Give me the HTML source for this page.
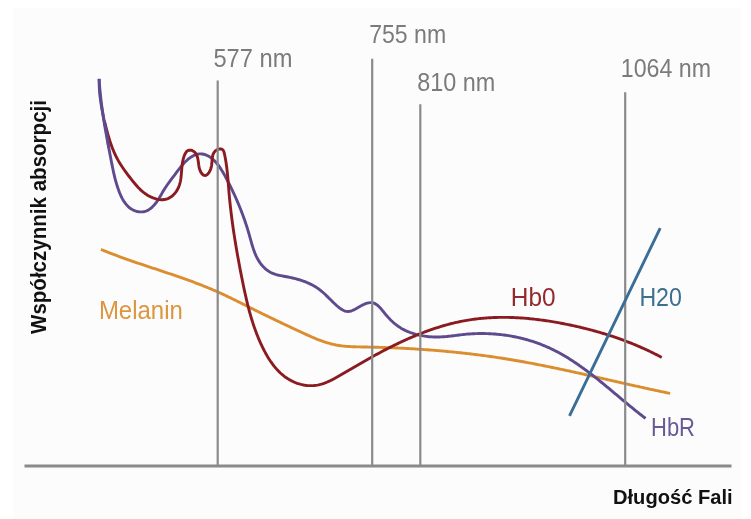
<!DOCTYPE html>
<html><head><meta charset="utf-8"><title>Współczynnik absorpcji</title>
<style>html,body{margin:0;padding:0;background:#fdfcfd;}svg{display:block;}
text{font-family:"Liberation Sans",sans-serif;}</style></head>
<body>
<svg width="751" height="519" viewBox="0 0 751 519">
<rect width="751" height="519" fill="#ffffff"/>
<rect x="13" y="8" width="728" height="511" fill="#fdfcfd"/>
<path d="M100.99 249.42 L102.38 249.99 L103.77 250.56 L105.17 251.12 L106.56 251.68 L107.96 252.24 L109.36 252.79 L110.76 253.33 L112.17 253.87 L113.57 254.41 L114.98 254.94 L116.39 255.47 L117.80 256.00 L119.21 256.52 L120.62 257.03 L122.03 257.55 L123.45 258.06 L124.86 258.57 L126.28 259.07 L127.70 259.57 L129.12 260.07 L130.54 260.57 L131.96 261.06 L133.38 261.55 L134.80 262.04 L136.22 262.53 L137.65 263.01 L139.07 263.50 L140.50 263.98 L141.92 264.46 L143.35 264.94 L144.77 265.42 L146.20 265.89 L147.63 266.37 L149.05 266.84 L150.48 267.32 L151.91 267.79 L153.33 268.27 L154.76 268.74 L156.19 269.21 L157.62 269.69 L159.04 270.16 L160.47 270.64 L161.90 271.11 L163.33 271.59 L164.75 272.06 L166.18 272.54 L167.60 273.02 L169.03 273.50 L170.45 273.98 L171.88 274.46 L173.30 274.95 L174.73 275.43 L176.15 275.92 L177.57 276.41 L178.99 276.90 L180.41 277.40 L181.83 277.89 L183.25 278.39 L184.67 278.89 L186.08 279.40 L187.50 279.91 L188.91 280.42 L190.33 280.93 L191.74 281.45 L193.15 281.97 L194.56 282.50 L195.97 283.03 L197.37 283.56 L198.78 284.10 L200.18 284.64 L201.58 285.19 L202.98 285.74 L204.38 286.30 L205.77 286.86 L207.17 287.43 L208.56 288.00 L209.95 288.57 L211.33 289.15 L212.72 289.74 L214.10 290.34 L215.48 290.93 L216.86 291.54 L218.23 292.15 L219.60 292.77 L220.97 293.39 L222.34 294.02 L223.70 294.65 L225.06 295.29 L226.42 295.93 L227.78 296.58 L229.14 297.23 L230.49 297.88 L231.84 298.54 L233.19 299.20 L234.54 299.87 L235.89 300.53 L237.24 301.20 L238.59 301.87 L239.93 302.54 L241.28 303.21 L242.62 303.89 L243.97 304.56 L245.31 305.24 L246.66 305.91 L248.00 306.59 L249.34 307.26 L250.69 307.93 L252.03 308.61 L253.38 309.28 L254.73 309.95 L256.07 310.61 L257.42 311.28 L258.77 311.94 L260.12 312.61 L261.47 313.27 L262.82 313.93 L264.17 314.59 L265.53 315.25 L266.88 315.91 L268.23 316.57 L269.58 317.22 L270.94 317.88 L272.29 318.53 L273.65 319.18 L275.00 319.83 L276.36 320.48 L277.72 321.13 L279.07 321.78 L280.43 322.43 L281.79 323.07 L283.15 323.72 L284.51 324.36 L285.87 325.01 L287.23 325.65 L288.59 326.29 L289.95 326.93 L291.31 327.57 L292.67 328.21 L294.03 328.85 L295.39 329.49 L296.75 330.13 L298.12 330.76 L299.48 331.40 L300.84 332.04 L302.21 332.67 L303.57 333.30 L304.94 333.93 L306.30 334.56 L307.67 335.18 L309.05 335.79 L310.42 336.40 L311.80 337.00 L313.19 337.59 L314.57 338.17 L315.96 338.74 L317.36 339.30 L318.76 339.85 L320.17 340.38 L321.58 340.90 L323.00 341.40 L324.42 341.88 L325.85 342.35 L327.29 342.79 L328.73 343.22 L330.18 343.62 L331.64 344.00 L333.10 344.35 L334.57 344.68 L336.04 344.99 L337.52 345.26 L339.00 345.51 L340.49 345.73 L341.98 345.92 L343.47 346.09 L344.97 346.24 L346.47 346.37 L347.97 346.48 L349.47 346.57 L350.97 346.65 L352.47 346.72 L353.98 346.77 L355.48 346.82 L356.98 346.86 L358.49 346.89 L359.99 346.92 L361.50 346.94 L363.00 346.97 L364.50 346.99 L366.01 347.02 L367.51 347.05 L369.01 347.08 L370.52 347.11 L372.02 347.15 L373.52 347.19 L375.03 347.22 L376.53 347.26 L378.03 347.31 L379.54 347.35 L381.04 347.40 L382.54 347.45 L384.05 347.49 L385.55 347.55 L387.05 347.60 L388.56 347.66 L390.06 347.71 L391.56 347.77 L393.06 347.84 L394.57 347.90 L396.07 347.96 L397.57 348.03 L399.07 348.10 L400.58 348.17 L402.08 348.25 L403.58 348.32 L405.08 348.40 L406.59 348.48 L408.09 348.56 L409.59 348.65 L411.09 348.73 L412.59 348.82 L414.09 348.91 L415.59 349.00 L417.09 349.10 L418.60 349.19 L420.10 349.29 L421.60 349.39 L423.10 349.50 L424.60 349.60 L426.10 349.71 L427.60 349.82 L429.10 349.93 L430.60 350.04 L432.10 350.16 L433.60 350.28 L435.10 350.40 L436.59 350.52 L438.09 350.64 L439.59 350.77 L441.09 350.90 L442.59 351.03 L444.09 351.17 L445.58 351.30 L447.08 351.44 L448.58 351.58 L450.08 351.73 L451.57 351.87 L453.07 352.02 L454.57 352.17 L456.06 352.32 L457.56 352.48 L459.05 352.64 L460.55 352.79 L462.04 352.96 L463.54 353.12 L465.03 353.29 L466.53 353.46 L468.02 353.63 L469.52 353.80 L471.01 353.98 L472.50 354.16 L474.00 354.34 L475.49 354.53 L476.98 354.71 L478.47 354.90 L479.96 355.09 L481.46 355.29 L482.95 355.48 L484.44 355.68 L485.93 355.88 L487.42 356.09 L488.91 356.30 L490.40 356.50 L491.89 356.72 L493.38 356.93 L494.86 357.15 L496.35 357.37 L497.84 357.59 L499.33 357.81 L500.81 358.04 L502.30 358.27 L503.78 358.50 L505.27 358.74 L506.75 358.98 L508.24 359.22 L509.72 359.46 L511.21 359.71 L512.69 359.96 L514.17 360.21 L515.66 360.46 L517.14 360.72 L518.62 360.98 L520.10 361.24 L521.58 361.50 L523.06 361.77 L524.54 362.04 L526.02 362.31 L527.50 362.58 L528.98 362.85 L530.46 363.13 L531.93 363.41 L533.41 363.69 L534.89 363.97 L536.37 364.26 L537.84 364.55 L539.32 364.83 L540.79 365.12 L542.27 365.42 L543.74 365.71 L545.22 366.01 L546.69 366.31 L548.17 366.60 L549.64 366.91 L551.11 367.21 L552.59 367.51 L554.06 367.82 L555.53 368.12 L557.00 368.43 L558.47 368.74 L559.95 369.05 L561.42 369.37 L562.89 369.68 L564.36 370.00 L565.83 370.31 L567.30 370.63 L568.77 370.95 L570.24 371.27 L571.71 371.59 L573.18 371.91 L574.65 372.23 L576.12 372.55 L577.58 372.88 L579.05 373.20 L580.52 373.53 L581.99 373.86 L583.46 374.18 L584.92 374.51 L586.39 374.84 L587.86 375.17 L589.33 375.50 L590.79 375.83 L592.26 376.16 L593.73 376.49 L595.19 376.82 L596.66 377.16 L598.13 377.49 L599.59 377.82 L601.06 378.16 L602.53 378.49 L603.99 378.82 L605.46 379.16 L606.93 379.49 L608.39 379.82 L609.86 380.16 L611.33 380.49 L612.79 380.83 L614.26 381.16 L615.73 381.49 L617.19 381.83 L618.66 382.16 L620.13 382.49 L621.59 382.83 L623.06 383.16 L624.53 383.49 L625.99 383.82 L627.46 384.15 L628.93 384.48 L630.39 384.81 L631.86 385.14 L633.33 385.47 L634.80 385.80 L636.26 386.13 L637.73 386.46 L639.20 386.78 L640.67 387.11 L642.14 387.44 L643.61 387.76 L645.07 388.08 L646.54 388.40 L648.01 388.73 L649.48 389.05 L650.95 389.37 L652.42 389.68 L653.89 390.00 L655.36 390.32 L656.83 390.63 L658.30 390.94 L659.78 391.26 L661.25 391.57 L662.72 391.88 L664.19 392.19 L665.66 392.49 L667.14 392.80 L668.61 393.10 L670.08 393.40" fill="none" stroke="#da8e30" stroke-width="2.9" stroke-linecap="butt" stroke-linejoin="round"/>
<path d="M99.09 78.95 L99.18 80.45 L99.28 81.95 L99.39 83.45 L99.50 84.95 L99.62 86.45 L99.75 87.95 L99.88 89.44 L100.02 90.94 L100.17 92.44 L100.32 93.93 L100.48 95.43 L100.65 96.92 L100.82 98.42 L100.99 99.91 L101.17 101.40 L101.36 102.89 L101.55 104.38 L101.74 105.87 L101.94 107.36 L102.15 108.85 L102.35 110.34 L102.57 111.83 L102.78 113.32 L103.01 114.81 L103.23 116.29 L103.46 117.78 L103.69 119.26 L103.93 120.75 L104.17 122.23 L104.41 123.72 L104.66 125.20 L104.91 126.68 L105.16 128.16 L105.42 129.64 L105.67 131.13 L105.93 132.61 L106.20 134.09 L106.46 135.57 L106.73 137.05 L107.00 138.52 L107.27 140.00 L107.54 141.48 L107.82 142.96 L108.10 144.44 L108.37 145.91 L108.65 147.39 L108.94 148.87 L109.22 150.34 L109.50 151.82 L109.78 153.30 L110.07 154.77 L110.36 156.25 L110.64 157.72 L110.93 159.20 L111.22 160.68 L111.50 162.15 L111.79 163.63 L112.08 165.10 L112.38 166.58 L112.68 168.05 L112.98 169.52 L113.29 170.99 L113.61 172.46 L113.94 173.93 L114.28 175.39 L114.64 176.85 L115.00 178.31 L115.38 179.77 L115.78 181.22 L116.18 182.66 L116.61 184.11 L117.05 185.54 L117.51 186.97 L117.99 188.40 L118.48 189.82 L119.00 191.23 L119.54 192.63 L120.12 194.02 L120.72 195.40 L121.36 196.76 L122.04 198.10 L122.76 199.42 L123.53 200.71 L124.35 201.97 L125.23 203.19 L126.16 204.37 L127.15 205.50 L128.22 206.56 L129.34 207.56 L130.54 208.47 L131.80 209.29 L133.12 210.00 L134.49 210.62 L135.91 211.12 L137.36 211.51 L138.84 211.77 L140.33 211.91 L141.84 211.91 L143.33 211.76 L144.81 211.47 L146.24 211.02 L147.61 210.41 L148.92 209.66 L150.16 208.81 L151.33 207.87 L152.43 206.85 L153.49 205.78 L154.49 204.66 L155.44 203.50 L156.35 202.30 L157.22 201.07 L158.06 199.82 L158.86 198.55 L159.64 197.27 L160.41 195.97 L161.16 194.67 L161.91 193.37 L162.67 192.07 L163.43 190.77 L164.21 189.49 L165.01 188.22 L165.83 186.96 L166.68 185.72 L167.54 184.48 L168.41 183.26 L169.30 182.05 L170.20 180.84 L171.10 179.64 L172.01 178.44 L172.92 177.24 L173.82 176.05 L174.72 174.84 L175.62 173.63 L176.52 172.43 L177.41 171.22 L178.32 170.02 L179.23 168.83 L180.16 167.64 L181.11 166.48 L182.08 165.33 L183.07 164.20 L184.09 163.09 L185.13 162.01 L186.21 160.96 L187.32 159.95 L188.46 158.97 L189.65 158.05 L190.87 157.18 L192.14 156.37 L193.46 155.65 L194.83 155.02 L196.24 154.51 L197.69 154.13 L199.18 153.91 L200.68 153.85 L202.18 153.97 L203.66 154.25 L205.10 154.67 L206.50 155.20 L207.86 155.84 L209.18 156.57 L210.44 157.39 L211.65 158.28 L212.81 159.23 L213.92 160.25 L214.98 161.31 L216.00 162.42 L216.97 163.56 L217.91 164.74 L218.81 165.94 L219.68 167.17 L220.52 168.41 L221.34 169.68 L222.14 170.95 L222.91 172.24 L223.67 173.54 L224.40 174.85 L225.13 176.17 L225.84 177.49 L226.54 178.82 L227.24 180.15 L227.93 181.49 L228.62 182.82 L229.30 184.16 L229.97 185.51 L230.64 186.86 L231.30 188.21 L231.95 189.56 L232.60 190.92 L233.24 192.28 L233.88 193.64 L234.50 195.01 L235.12 196.37 L235.74 197.75 L236.35 199.12 L236.95 200.50 L237.54 201.88 L238.13 203.26 L238.71 204.65 L239.28 206.04 L239.85 207.43 L240.41 208.83 L240.96 210.23 L241.50 211.63 L242.04 213.03 L242.57 214.44 L243.09 215.85 L243.60 217.26 L244.11 218.68 L244.61 220.10 L245.10 221.52 L245.58 222.94 L246.06 224.37 L246.52 225.80 L246.98 227.23 L247.43 228.66 L247.88 230.10 L248.31 231.54 L248.74 232.98 L249.15 234.42 L249.56 235.87 L249.97 237.32 L250.37 238.77 L250.77 240.22 L251.17 241.67 L251.58 243.11 L252.00 244.56 L252.43 246.00 L252.88 247.43 L253.34 248.86 L253.83 250.28 L254.35 251.69 L254.89 253.10 L255.47 254.48 L256.08 255.86 L256.73 257.21 L257.43 258.55 L258.16 259.85 L258.95 261.14 L259.78 262.39 L260.66 263.61 L261.59 264.79 L262.56 265.94 L263.59 267.03 L264.66 268.09 L265.79 269.08 L266.96 270.02 L268.18 270.90 L269.45 271.71 L270.76 272.44 L272.12 273.09 L273.51 273.66 L274.93 274.16 L276.36 274.60 L277.82 274.99 L279.28 275.33 L280.75 275.65 L282.22 275.94 L283.70 276.22 L285.18 276.48 L286.66 276.75 L288.14 277.03 L289.61 277.33 L291.08 277.64 L292.55 277.97 L294.01 278.31 L295.47 278.68 L296.92 279.07 L298.37 279.48 L299.81 279.91 L301.24 280.37 L302.66 280.85 L304.08 281.36 L305.48 281.90 L306.87 282.46 L308.26 283.06 L309.62 283.68 L310.98 284.34 L312.31 285.03 L313.63 285.75 L314.93 286.51 L316.21 287.30 L317.46 288.12 L318.70 288.98 L319.90 289.88 L321.08 290.82 L322.23 291.78 L323.36 292.77 L324.48 293.78 L325.57 294.81 L326.66 295.85 L327.73 296.90 L328.80 297.96 L329.86 299.02 L330.93 300.09 L331.99 301.15 L333.07 302.20 L334.15 303.24 L335.24 304.27 L336.35 305.29 L337.48 306.28 L338.63 307.25 L339.82 308.17 L341.04 309.04 L342.32 309.83 L343.66 310.52 L345.06 311.07 L346.52 311.42 L348.01 311.54 L349.51 311.39 L350.96 311.03 L352.37 310.51 L353.74 309.88 L355.07 309.19 L356.38 308.45 L357.68 307.70 L358.98 306.94 L360.29 306.20 L361.62 305.49 L362.96 304.82 L364.33 304.20 L365.73 303.65 L367.16 303.19 L368.62 302.84 L370.11 302.64 L371.62 302.65 L373.10 302.90 L374.51 303.40 L375.84 304.10 L377.08 304.95 L378.23 305.91 L379.32 306.95 L380.35 308.05 L381.34 309.18 L382.30 310.33 L383.25 311.50 L384.19 312.68 L385.13 313.84 L386.09 315.00 L387.07 316.14 L388.07 317.26 L389.10 318.36 L390.14 319.44 L391.21 320.50 L392.30 321.53 L393.42 322.54 L394.56 323.51 L395.73 324.46 L396.93 325.37 L398.15 326.25 L399.39 327.09 L400.66 327.90 L401.95 328.67 L403.27 329.40 L404.60 330.09 L405.96 330.74 L407.33 331.36 L408.72 331.94 L410.12 332.48 L411.53 332.99 L412.96 333.47 L414.39 333.91 L415.84 334.33 L417.29 334.71 L418.75 335.06 L420.22 335.38 L421.70 335.67 L423.18 335.93 L424.66 336.16 L426.15 336.37 L427.65 336.55 L429.14 336.69 L430.64 336.82 L432.14 336.91 L433.64 336.98 L435.14 337.02 L436.65 337.03 L438.15 337.01 L439.65 336.97 L441.16 336.91 L442.66 336.82 L444.16 336.71 L445.65 336.58 L447.15 336.44 L448.65 336.28 L450.14 336.11 L451.63 335.94 L453.12 335.75 L454.62 335.57 L456.11 335.38 L457.60 335.19 L459.09 335.00 L460.58 334.82 L462.08 334.64 L463.57 334.48 L465.06 334.32 L466.56 334.18 L468.06 334.06 L469.56 333.94 L471.06 333.84 L472.56 333.76 L474.06 333.68 L475.56 333.62 L477.07 333.58 L478.57 333.54 L480.07 333.52 L481.58 333.52 L483.08 333.52 L484.58 333.54 L486.08 333.58 L487.59 333.63 L489.09 333.69 L490.59 333.76 L492.09 333.85 L493.59 333.95 L495.09 334.06 L496.59 334.18 L498.09 334.32 L499.58 334.48 L501.08 334.64 L502.57 334.82 L504.06 335.02 L505.55 335.22 L507.04 335.44 L508.52 335.67 L510.00 335.92 L511.48 336.18 L512.96 336.45 L514.44 336.74 L515.91 337.04 L517.38 337.35 L518.85 337.68 L520.31 338.02 L521.78 338.37 L523.23 338.74 L524.69 339.12 L526.14 339.51 L527.59 339.92 L529.03 340.34 L530.47 340.77 L531.90 341.22 L533.33 341.68 L534.76 342.16 L536.18 342.65 L537.60 343.15 L539.01 343.67 L540.42 344.20 L541.82 344.74 L543.21 345.30 L544.60 345.87 L545.99 346.46 L547.37 347.06 L548.74 347.68 L550.10 348.30 L551.46 348.94 L552.82 349.60 L554.16 350.27 L555.50 350.95 L556.84 351.64 L558.17 352.34 L559.49 353.06 L560.81 353.78 L562.12 354.52 L563.42 355.27 L564.72 356.03 L566.01 356.80 L567.30 357.58 L568.58 358.36 L569.85 359.16 L571.12 359.97 L572.38 360.78 L573.64 361.60 L574.89 362.44 L576.14 363.27 L577.38 364.12 L578.62 364.97 L579.85 365.84 L581.08 366.70 L582.30 367.58 L583.52 368.46 L584.74 369.34 L585.95 370.24 L587.15 371.13 L588.35 372.04 L589.55 372.94 L590.75 373.86 L591.94 374.77 L593.13 375.70 L594.31 376.62 L595.49 377.55 L596.67 378.49 L597.84 379.42 L599.02 380.36 L600.19 381.31 L601.36 382.25 L602.52 383.20 L603.69 384.15 L604.85 385.11 L606.01 386.06 L607.17 387.02 L608.32 387.98 L609.48 388.94 L610.63 389.91 L611.79 390.87 L612.94 391.83 L614.09 392.80 L615.25 393.77 L616.40 394.73 L617.55 395.70 L618.70 396.66 L619.85 397.63 L621.00 398.59 L622.16 399.56 L623.31 400.52 L624.47 401.49 L625.62 402.45 L626.78 403.41 L627.94 404.37 L629.10 405.32 L630.26 406.28 L631.42 407.23 L632.59 408.18 L633.75 409.13 L634.92 410.07 L636.10 411.01 L637.27 411.95 L638.45 412.88 L639.63 413.81 L640.82 414.74 L642.01 415.66 L643.20 416.57 L644.39 417.49 L645.59 418.39" fill="none" stroke="#5e4a8c" stroke-width="2.9" stroke-linecap="butt" stroke-linejoin="round"/>
<path d="M104.45 121.03 L104.81 122.49 L105.17 123.95 L105.54 125.41 L105.90 126.87 L106.28 128.32 L106.65 129.78 L107.04 131.23 L107.43 132.68 L107.83 134.13 L108.25 135.58 L108.67 137.02 L109.10 138.46 L109.55 139.90 L110.00 141.33 L110.48 142.76 L110.96 144.18 L111.47 145.60 L111.99 147.01 L112.53 148.41 L113.08 149.81 L113.66 151.20 L114.26 152.58 L114.88 153.95 L115.52 155.31 L116.18 156.66 L116.87 158.00 L117.58 159.32 L118.31 160.64 L119.07 161.94 L119.84 163.22 L120.64 164.50 L121.45 165.77 L122.27 167.02 L123.12 168.27 L123.97 169.51 L124.84 170.73 L125.72 171.95 L126.61 173.16 L127.51 174.37 L128.42 175.57 L129.34 176.76 L130.26 177.95 L131.19 179.13 L132.13 180.31 L133.07 181.48 L134.02 182.65 L134.98 183.80 L135.96 184.94 L136.95 186.07 L137.97 187.18 L139.01 188.26 L140.08 189.32 L141.18 190.35 L142.31 191.34 L143.47 192.30 L144.66 193.22 L145.88 194.09 L147.14 194.91 L148.43 195.68 L149.75 196.40 L151.10 197.07 L152.48 197.67 L153.88 198.22 L155.31 198.69 L156.76 199.08 L158.23 199.39 L159.72 199.60 L161.22 199.71 L162.72 199.70 L164.22 199.56 L165.70 199.29 L167.14 198.87 L168.53 198.30 L169.86 197.60 L171.12 196.78 L172.31 195.85 L173.42 194.84 L174.46 193.76 L175.42 192.60 L176.31 191.39 L177.13 190.13 L177.86 188.81 L178.50 187.45 L179.07 186.06 L179.55 184.64 L179.96 183.19 L180.30 181.72 L180.58 180.25 L180.82 178.76 L181.01 177.27 L181.18 175.78 L181.32 174.28 L181.44 172.78 L181.56 171.28 L181.67 169.78 L181.80 168.28 L181.94 166.79 L182.11 165.29 L182.31 163.80 L182.54 162.32 L182.83 160.84 L183.16 159.37 L183.55 157.92 L184.01 156.49 L184.53 155.08 L185.16 153.71 L185.92 152.42 L186.89 151.27 L188.13 150.43 L189.58 150.08 L191.07 150.24 L192.49 150.74 L193.80 151.48 L194.94 152.45 L195.89 153.62 L196.62 154.93 L197.18 156.32 L197.61 157.76 L197.92 159.23 L198.17 160.72 L198.38 162.21 L198.56 163.70 L198.76 165.19 L199.00 166.67 L199.31 168.15 L199.73 169.59 L200.28 170.99 L200.98 172.32 L201.84 173.55 L202.89 174.63 L204.17 175.39 L205.65 175.44 L206.98 174.75 L208.06 173.72 L208.97 172.52 L209.74 171.23 L210.38 169.87 L210.89 168.45 L211.28 167.00 L211.57 165.53 L211.77 164.04 L211.91 162.54 L212.02 161.04 L212.12 159.54 L212.27 158.04 L212.49 156.56 L212.83 155.09 L213.34 153.68 L214.07 152.37 L215.04 151.22 L216.20 150.27 L217.51 149.53 L218.93 149.04 L220.42 148.88 L221.88 149.19 L223.08 150.07 L223.79 151.39 L224.20 152.84 L224.53 154.30 L224.84 155.77 L225.14 157.25 L225.41 158.73 L225.67 160.21 L225.92 161.69 L226.15 163.18 L226.37 164.67 L226.57 166.16 L226.76 167.65 L226.94 169.14 L227.11 170.64 L227.27 172.13 L227.42 173.63 L227.57 175.12 L227.71 176.62 L227.84 178.12 L227.97 179.62 L228.09 181.12 L228.21 182.61 L228.33 184.11 L228.45 185.61 L228.57 187.11 L228.69 188.61 L228.81 190.11 L228.94 191.61 L229.07 193.11 L229.20 194.60 L229.33 196.10 L229.47 197.60 L229.62 199.10 L229.77 200.59 L229.92 202.09 L230.07 203.58 L230.23 205.08 L230.40 206.58 L230.57 208.07 L230.74 209.56 L230.91 211.06 L231.09 212.55 L231.27 214.04 L231.46 215.54 L231.64 217.03 L231.84 218.52 L232.03 220.01 L232.23 221.50 L232.43 222.99 L232.64 224.48 L232.85 225.97 L233.06 227.46 L233.27 228.95 L233.49 230.44 L233.71 231.92 L233.94 233.41 L234.16 234.90 L234.39 236.38 L234.62 237.87 L234.86 239.35 L235.10 240.84 L235.34 242.32 L235.58 243.81 L235.83 245.29 L236.08 246.77 L236.33 248.26 L236.58 249.74 L236.84 251.22 L237.10 252.70 L237.36 254.18 L237.62 255.66 L237.89 257.14 L238.15 258.62 L238.42 260.10 L238.70 261.58 L238.97 263.06 L239.25 264.54 L239.53 266.02 L239.81 267.49 L240.09 268.97 L240.37 270.45 L240.66 271.92 L240.95 273.40 L241.24 274.87 L241.53 276.35 L241.82 277.82 L242.12 279.30 L242.42 280.77 L242.71 282.25 L243.01 283.72 L243.32 285.19 L243.62 286.67 L243.93 288.14 L244.24 289.61 L244.56 291.08 L244.88 292.55 L245.20 294.02 L245.52 295.49 L245.86 296.95 L246.19 298.42 L246.53 299.88 L246.88 301.35 L247.23 302.81 L247.59 304.27 L247.95 305.73 L248.32 307.19 L248.70 308.64 L249.08 310.10 L249.47 311.55 L249.87 313.00 L250.28 314.45 L250.69 315.89 L251.12 317.34 L251.55 318.78 L251.99 320.21 L252.44 321.65 L252.90 323.08 L253.36 324.51 L253.84 325.94 L254.33 327.36 L254.83 328.78 L255.33 330.19 L255.85 331.60 L256.38 333.01 L256.92 334.42 L257.48 335.81 L258.04 337.21 L258.61 338.60 L259.20 339.98 L259.80 341.36 L260.41 342.74 L261.03 344.11 L261.67 345.47 L262.31 346.83 L262.98 348.18 L263.65 349.52 L264.34 350.86 L265.05 352.18 L265.77 353.50 L266.51 354.81 L267.26 356.11 L268.04 357.40 L268.83 358.68 L269.65 359.94 L270.48 361.19 L271.34 362.43 L272.22 363.65 L273.12 364.85 L274.04 366.04 L274.99 367.21 L275.97 368.35 L276.97 369.48 L277.99 370.57 L279.04 371.65 L280.12 372.70 L281.23 373.71 L282.36 374.70 L283.53 375.66 L284.72 376.58 L285.93 377.46 L287.18 378.31 L288.44 379.11 L289.74 379.88 L291.06 380.60 L292.40 381.28 L293.76 381.91 L295.15 382.50 L296.55 383.04 L297.97 383.53 L299.41 383.97 L300.86 384.37 L302.32 384.71 L303.80 385.01 L305.28 385.25 L306.77 385.45 L308.27 385.58 L309.77 385.66 L311.28 385.67 L312.78 385.63 L314.28 385.51 L315.77 385.34 L317.26 385.10 L318.73 384.80 L320.19 384.45 L321.64 384.05 L323.08 383.60 L324.50 383.10 L325.90 382.57 L327.29 382.00 L328.67 381.40 L330.04 380.77 L331.39 380.11 L332.73 379.43 L334.06 378.73 L335.39 378.02 L336.70 377.29 L338.01 376.54 L339.31 375.79 L340.61 375.04 L341.91 374.28 L343.20 373.51 L344.50 372.75 L345.80 371.99 L347.09 371.22 L348.39 370.46 L349.69 369.70 L350.99 368.94 L352.28 368.19 L353.58 367.43 L354.88 366.67 L356.18 365.92 L357.49 365.16 L358.79 364.41 L360.09 363.66 L361.40 362.92 L362.70 362.17 L364.01 361.43 L365.32 360.68 L366.63 359.94 L367.94 359.21 L369.25 358.47 L370.56 357.74 L371.88 357.01 L373.20 356.29 L374.51 355.56 L375.83 354.84 L377.16 354.12 L378.48 353.41 L379.80 352.70 L381.13 351.99 L382.46 351.29 L383.79 350.59 L385.13 349.90 L386.46 349.20 L387.80 348.52 L389.14 347.83 L390.48 347.15 L391.82 346.48 L393.17 345.81 L394.52 345.15 L395.87 344.49 L397.22 343.83 L398.58 343.18 L399.94 342.54 L401.30 341.90 L402.66 341.26 L404.03 340.63 L405.40 340.01 L406.77 339.39 L408.14 338.78 L409.52 338.18 L410.90 337.58 L412.28 336.98 L413.67 336.40 L415.05 335.82 L416.44 335.24 L417.84 334.68 L419.23 334.12 L420.63 333.56 L422.03 333.02 L423.44 332.48 L424.84 331.95 L426.25 331.42 L427.66 330.91 L429.08 330.40 L430.50 329.89 L431.92 329.40 L433.34 328.92 L434.77 328.44 L436.20 327.97 L437.63 327.51 L439.06 327.06 L440.50 326.62 L441.94 326.18 L443.38 325.76 L444.83 325.34 L446.27 324.93 L447.72 324.54 L449.18 324.15 L450.63 323.77 L452.09 323.41 L453.55 323.05 L455.02 322.70 L456.48 322.37 L457.95 322.04 L459.42 321.73 L460.89 321.42 L462.37 321.13 L463.85 320.85 L465.33 320.58 L466.81 320.32 L468.29 320.07 L469.78 319.84 L471.26 319.61 L472.75 319.40 L474.24 319.20 L475.73 319.01 L477.23 318.83 L478.72 318.66 L480.22 318.50 L481.71 318.36 L483.21 318.22 L484.71 318.09 L486.21 317.98 L487.71 317.87 L489.21 317.78 L490.71 317.69 L492.21 317.62 L493.71 317.55 L495.22 317.49 L496.72 317.45 L498.22 317.41 L499.73 317.39 L501.23 317.37 L502.73 317.36 L504.24 317.36 L505.74 317.37 L507.25 317.39 L508.75 317.42 L510.25 317.46 L511.76 317.50 L513.26 317.56 L514.76 317.62 L516.26 317.69 L517.76 317.77 L519.27 317.86 L520.77 317.95 L522.27 318.05 L523.77 318.17 L525.27 318.28 L526.76 318.41 L528.26 318.54 L529.76 318.69 L531.26 318.83 L532.75 318.99 L534.25 319.15 L535.74 319.32 L537.23 319.50 L538.73 319.69 L540.22 319.88 L541.71 320.07 L543.20 320.28 L544.69 320.49 L546.18 320.71 L547.66 320.93 L549.15 321.16 L550.63 321.39 L552.12 321.64 L553.60 321.88 L555.08 322.14 L556.57 322.40 L558.05 322.66 L559.52 322.93 L561.00 323.21 L562.48 323.49 L563.96 323.78 L565.43 324.07 L566.91 324.37 L568.38 324.67 L569.85 324.98 L571.32 325.29 L572.79 325.61 L574.26 325.93 L575.73 326.26 L577.19 326.59 L578.66 326.93 L580.12 327.27 L581.59 327.62 L583.05 327.97 L584.51 328.33 L585.97 328.70 L587.43 329.07 L588.88 329.44 L590.34 329.82 L591.79 330.21 L593.24 330.60 L594.69 331.00 L596.14 331.40 L597.59 331.81 L599.03 332.23 L600.48 332.65 L601.92 333.08 L603.36 333.51 L604.80 333.95 L606.23 334.39 L607.67 334.84 L609.10 335.30 L610.53 335.76 L611.96 336.23 L613.39 336.71 L614.81 337.19 L616.23 337.68 L617.66 338.17 L619.07 338.67 L620.49 339.18 L621.90 339.69 L623.31 340.21 L624.72 340.73 L626.13 341.27 L627.53 341.80 L628.94 342.35 L630.33 342.90 L631.73 343.46 L633.12 344.02 L634.52 344.59 L635.90 345.17 L637.29 345.76 L638.67 346.35 L640.05 346.94 L641.43 347.55 L642.80 348.16 L644.18 348.78 L645.54 349.40 L646.91 350.03 L648.27 350.67 L649.63 351.31 L650.98 351.97 L652.34 352.62 L653.69 353.29 L655.03 353.96 L656.37 354.64 L657.71 355.32 L659.05 356.01 L660.38 356.71 L661.71 357.42" fill="none" stroke="#8a1c21" stroke-width="2.9" stroke-linecap="butt" stroke-linejoin="round"/>
<path d="M99.23 78.89 L99.19 80.43 L99.18 81.97 L99.18 83.50 L99.21 85.04 L99.26 86.58 L99.33 88.11 L99.42 89.65 L99.53 91.18 L99.66 92.71 L99.80 94.24 L99.96 95.77 L100.14 97.30 L100.33 98.82 L100.54 100.35 L100.76 101.87 L100.99 103.39 L101.23 104.91 L101.48 106.42 L101.74 107.94 L102.00 109.45 L102.28 110.96 L102.56 112.48 L102.84 113.99 L103.14 115.49 L103.43 117.00 L103.73 118.51 L104.02 120.02 L104.32 121.53 L104.62 123.03 L104.92 124.54 L105.22 126.05 L105.51 127.56 L105.80 129.07 L106.09 130.58 L106.37 132.09 L106.64 133.60 L106.91 135.12 L107.16 136.63 L107.41 138.15 L107.65 139.67 L107.88 141.19 L108.09 142.71 L108.30 144.23 L108.49 145.76 L108.66 147.29" fill="none" stroke="#5e4a8c" stroke-width="2.9" stroke-linecap="butt" stroke-linejoin="round"/>
<line x1="217.7" y1="80.5" x2="217.7" y2="466.0" stroke="#8a8a8a" stroke-width="2.2"/>
<line x1="372.2" y1="58.7" x2="372.2" y2="466.0" stroke="#8a8a8a" stroke-width="2.2"/>
<line x1="420.3" y1="104.2" x2="420.3" y2="466.0" stroke="#8a8a8a" stroke-width="2.2"/>
<line x1="625.2" y1="92.3" x2="625.2" y2="466.0" stroke="#8a8a8a" stroke-width="2.2"/>
<line x1="24.5" y1="466.0" x2="731.5" y2="466.0" stroke="#8a8a8a" stroke-width="2.8"/>
<path d="M660.2 228.1 C645.1 259.4 584.6 384.5 569.5 415.8" fill="none" stroke="#3b6e96" stroke-width="2.9" stroke-linecap="butt" stroke-linejoin="round"/>
<text x="213.4" y="66.9" font-size="25.6" fill="#7b7b7b" font-weight="normal" textLength="79" lengthAdjust="spacingAndGlyphs">577 nm</text>
<text x="369.2" y="42.9" font-size="25.6" fill="#7b7b7b" font-weight="normal" textLength="77" lengthAdjust="spacingAndGlyphs">755 nm</text>
<text x="417.3" y="91.3" font-size="25.6" fill="#7b7b7b" font-weight="normal" textLength="78" lengthAdjust="spacingAndGlyphs">810 nm</text>
<text x="620.8" y="76.6" font-size="25.6" fill="#7b7b7b" font-weight="normal" textLength="90.3" lengthAdjust="spacingAndGlyphs">1064 nm</text>
<text x="98.9" y="318.8" font-size="25" fill="#dc9640" font-weight="normal" textLength="84" lengthAdjust="spacingAndGlyphs">Melanin</text>
<text x="510.8" y="306.2" font-size="25" fill="#942a2e" font-weight="normal" textLength="44.8" lengthAdjust="spacingAndGlyphs">Hb0</text>
<text x="639.4" y="305.5" font-size="25.6" fill="#3b7090" font-weight="normal" textLength="42.4" lengthAdjust="spacingAndGlyphs">H20</text>
<text x="651" y="435.5" font-size="25.6" fill="#685a96" font-weight="normal" textLength="44" lengthAdjust="spacingAndGlyphs">HbR</text>
<text x="613" y="504.4" font-size="20.3" fill="#111" font-weight="bold" textLength="119.6" lengthAdjust="spacingAndGlyphs">Długość Fali</text>
<text x="0" y="0" font-size="21.7" fill="#111" font-weight="bold" textLength="234" lengthAdjust="spacingAndGlyphs" transform="translate(46.2 334) rotate(-90)">Współczynnik absorpcji</text>
</svg>
</body></html>
